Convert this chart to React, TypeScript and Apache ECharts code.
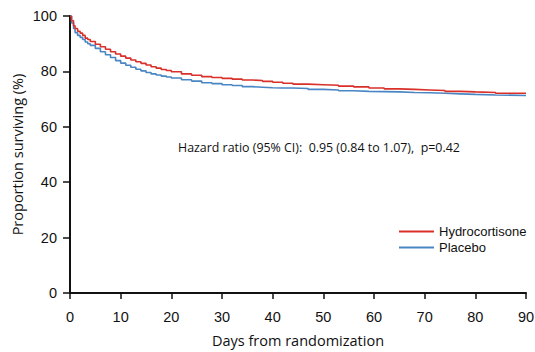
import React, { useEffect, useRef } from "react";
import * as echarts from "echarts";

const days = [0, 0.3, 0.7, 1, 1.5, 2, 2.5, 3, 3.5, 4, 5, 6, 7, 8, 9, 10, 11, 12, 13, 14, 15, 16, 17, 18, 19, 20, 22, 24, 26, 28, 30, 32, 34, 36, 38, 40, 42, 44, 47, 50, 53, 56, 59, 62, 65, 68, 71, 74, 77, 80, 84, 90];
const hydrocortisone = [100, 98.3, 96.5, 95.5, 94.5, 93.8, 93.0, 92.0, 91.5, 90.8, 89.8, 88.9, 88.0, 87.1, 86.3, 85.5, 84.8, 84.1, 83.5, 82.9, 82.3, 81.7, 81.2, 80.7, 80.3, 79.9, 79.1, 78.6, 78.1, 77.8, 77.5, 77.2, 76.9, 76.7, 76.4, 76.1, 75.7, 75.4, 75.2, 75.0, 74.7, 74.4, 74.0, 73.7, 73.5, 73.3, 73.1, 72.8, 72.6, 72.4, 72.1, 72.1];
const placebo = [100, 97.5, 95.5, 94.0, 93.0, 92.3, 91.5, 90.6, 90.0, 89.4, 88.3, 87.1, 86.0, 85.0, 83.9, 83.0, 82.2, 81.5, 80.8, 80.2, 79.6, 79.1, 78.7, 78.3, 78.0, 77.6, 77.0, 76.5, 75.9, 75.6, 75.2, 74.9, 74.5, 74.3, 74.1, 74.0, 74.0, 73.8, 73.5, 73.3, 73.0, 72.8, 72.7, 72.6, 72.4, 72.3, 72.1, 71.9, 71.7, 71.5, 71.3, 71.2];
const xTicks = { min: 0, max: 90, interval: 10 };
const yTicks = { min: 0, max: 100, interval: 20 };
const annotation = "Hazard ratio (95% CI):  0.95 (0.84 to 1.07),  p=0.42";

export default function App() {
  const ref = useRef<HTMLDivElement>(null);
  useEffect(() => {
    if (!ref.current) return;
    const chart = echarts.init(ref.current, null, { renderer: "svg" });
    const tickFont = { fontFamily: "Liberation Sans", fontSize: 14.5, color: "#111" };
    const nameFont = { fontFamily: "Open Sans", fontSize: 14.5, color: "#111" };
    chart.setOption({
      animation: false,
      backgroundColor: "#fff",
      grid: { left: 70, right: 9, top: 16, bottom: 59, outerBoundsMode: "none", containLabel: false },
      legend: {
        orient: "vertical",
        left: 394,
        top: 220,
        icon: "rect",
        itemWidth: 35,
        itemHeight: 2,
        itemGap: 3,
        textStyle: { fontFamily: "Liberation Sans", fontSize: 13, color: "#111" },
        data: ["Hydrocortisone", "Placebo"],
      },
      xAxis: {
        type: "value",
        ...xTicks,
        name: "Days from randomization",
        nameLocation: "middle",
        nameGap: 40,
        nameMoveOverlap: false,
        nameTextStyle: nameFont,
        axisLine: { show: true, lineStyle: { color: "#111", width: 2 } },
        axisTick: { show: true, inside: false, length: 6, lineStyle: { color: "#111", width: 1.5 } },
        axisLabel: { ...tickFont, margin: 16 },
        splitLine: { show: false },
      },
      yAxis: {
        type: "value",
        ...yTicks,
        name: "Proportion surviving (%)",
        nameLocation: "middle",
        nameGap: 45,
        nameMoveOverlap: false,
        nameTextStyle: nameFont,
        axisLine: { show: true, lineStyle: { color: "#111", width: 2 } },
        axisTick: { show: true, inside: false, length: 7, lineStyle: { color: "#111", width: 1.5 } },
        axisLabel: { ...tickFont, margin: 13 },
        splitLine: { show: false },
      },
      graphic: [
        {
          type: "text",
          left: 178,
          top: 141,
          style: { text: annotation, fontFamily: "Open Sans", fontSize: 12.4, fill: "#111" },
        },
      ],
      series: [
        {
          name: "Hydrocortisone",
          type: "line",
          step: "end",
          symbol: "none",
          data: days.map((d, i) => [d, hydrocortisone[i]]),
          lineStyle: { color: "#d9302a", width: 1.6 },
          itemStyle: { color: "#d9302a" },
          z: 3,
        },
        {
          name: "Placebo",
          type: "line",
          step: "end",
          symbol: "none",
          data: days.map((d, i) => [d, placebo[i]]),
          lineStyle: { color: "#4a86c4", width: 1.6 },
          itemStyle: { color: "#4a86c4" },
          z: 2,
        },
      ],
    });
    return () => chart.dispose();
  }, []);
  return <div ref={ref} style={{ position: "fixed", left: 0, top: 0, width: 535, height: 352 }} />;
}
